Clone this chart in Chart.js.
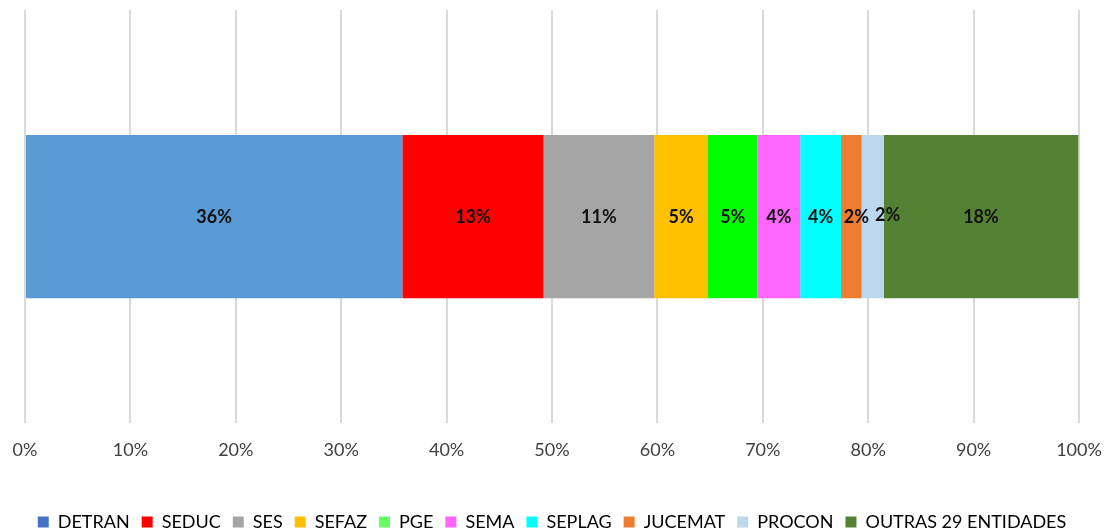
<!DOCTYPE html>
<html>
<head>
<meta charset="utf-8">
<script src="https://cdn.jsdelivr.net/npm/chart.js@4"></script>
<style>
  html, body { margin: 0; padding: 0; background: #fff; }
  #wrap { width: 1105px; height: 530px; }
</style>
</head>
<body>
<div id="wrap"><canvas id="myChart"></canvas></div>
<script>
// share of each entity (percent of total)
var entities = ['DETRAN', 'SEDUC', 'SES', 'SEFAZ', 'PGE', 'SEMA', 'SEPLAG', 'JUCEMAT', 'PROCON', 'OUTRAS 29 ENTIDADES'];
var shares = [35.8, 13.4, 10.5, 5.1, 4.7, 4.05, 3.87, 1.96, 2.09, 18.46];
var shareLabels = ['36%', '13%', '11%', '5%', '5%', '4%', '4%', '2%', '2%', '18%'];
var barColors = ['#5B9BD5', '#FF0000', '#A5A5A5', '#FFC000', '#00FF00', '#FF66FF', '#00FFFF', '#ED7D31', '#BDD7EE', '#548235'];
var legendColors = ['#4472C4', '#FF0000', '#A5A5A5', '#FFC000', '#66FF66', '#FF66FF', '#00FFFF', '#ED7D31', '#BDD7EE', '#548235'];
var xTicks = ['0%', '10%', '20%', '30%', '40%', '50%', '60%', '70%', '80%', '90%', '100%'];

var datasets = [];
for (let i = 0; i < entities.length; i++) {
    datasets.push({
        label: entities[i],
        data: [shares[i]],
        backgroundColor: barColors[i],
        borderWidth: 0,
        barPercentage: 0.395,
        categoryPercentage: 1
    });
}

// labels in the middle of each segment
var segLabels = {
    id: 'segLabels',
    afterDatasetsDraw(chart) {
        const c = chart.ctx;
        c.save();
        c.font = 'bold 18px Lato';
        c.fillStyle = '#111';
        c.textAlign = 'center';
        c.textBaseline = 'middle';
        chart.data.datasets.forEach((ds, i) => {
            const bar = chart.getDatasetMeta(i).data[0];
            let x = (bar.x + bar.base) / 2;
            let y = bar.y;
            // the two small 2% labels are nudged right like the original
            if (i == 7) { x += 5; }
            if (i == 8) { x += 15; y -= 2; }
            c.fillText(shareLabels[i], x, y);
        });
        c.restore();
    }
};

var ctx = document.getElementById('myChart').getContext('2d');
var myChart = new Chart(ctx, {
    type: 'bar',
    data: {
        labels: [''],
        datasets: datasets
    },
    options: {
        indexAxis: 'y',
        responsive: true,
        maintainAspectRatio: false,
        animation: false,
        layout: { padding: { top: 10, left: 25, right: 26, bottom: -11 } },
        scales: {
            x: {
                stacked: true,
                min: 0,
                max: 100,
                border: { display: false },
                grid: { color: '#D9D9D9', lineWidth: 2, drawTicks: false },
                ticks: {
                    stepSize: 10,
                    padding: 16,
                    color: '#404040',
                    font: { family: 'Lato', size: 18 },
                    callback: function (v) { return xTicks[v / 10]; }
                },
                afterFit: function (s) {
                    s.height += 24;
                    s.paddingLeft = 0;
                    s.paddingRight = 0;
                }
            },
            y: {
                stacked: true,
                display: false
            }
        },
        plugins: {
            tooltip: { enabled: false },
            legend: {
                position: 'bottom',
                labels: {
                    boxWidth: 11,
                    boxHeight: 11,
                    padding: 12,
                    color: '#1F1F3F',
                    font: { family: 'Lato', size: 18 },
                    generateLabels: function (chart) {
                        return chart.data.datasets.map((ds, i) => ({
                            text: ds.label,
                            fillStyle: legendColors[i],
                            strokeStyle: legendColors[i],
                            lineWidth: 0,
                            datasetIndex: i
                        }));
                    }
                }
            }
        }
    },
    plugins: [segLabels]
});
</script>
</body>
</html>
